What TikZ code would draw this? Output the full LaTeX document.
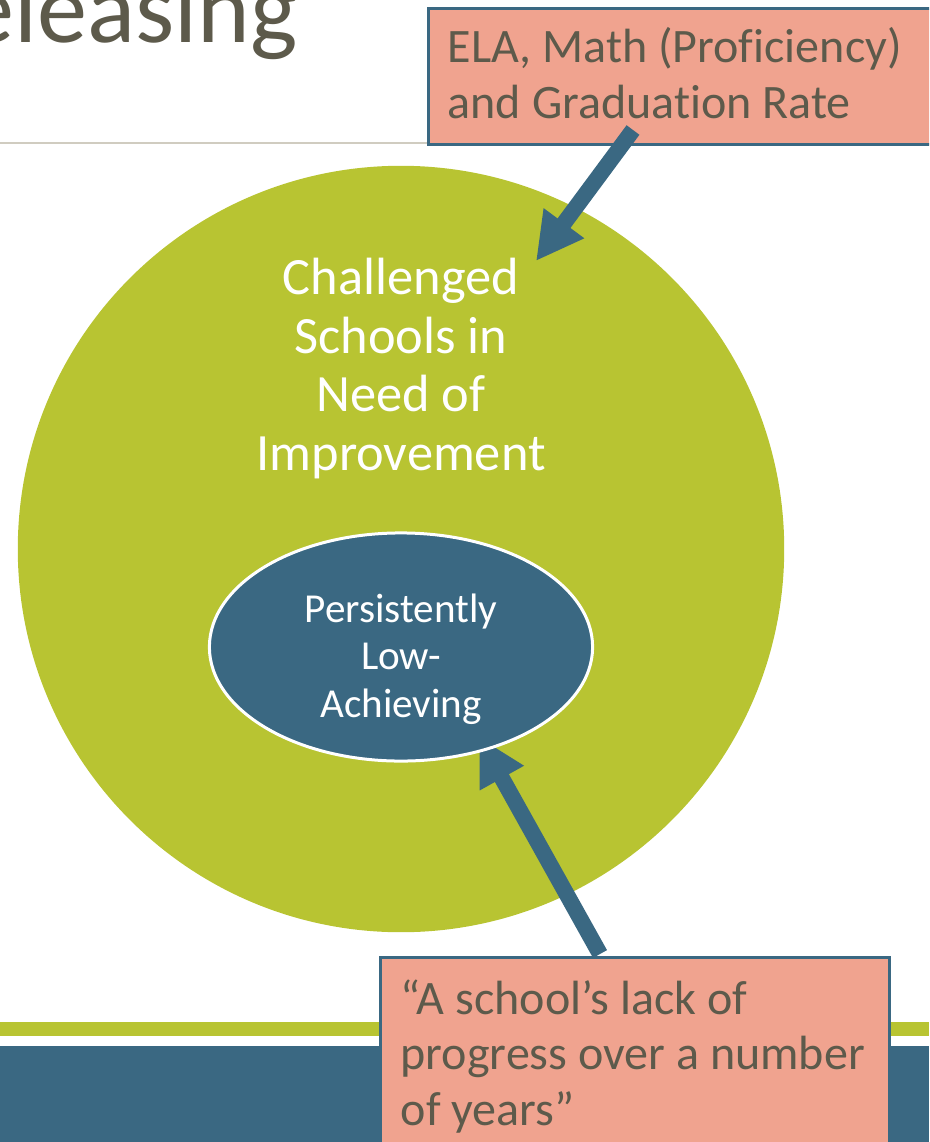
\documentclass[tikz,border=0pt]{standalone}
\usepackage{fontspec}
\setmainfont{Carlito}[Ligatures={TeX,NoCommon}]
\usepackage{xcolor}
\usetikzlibrary{arrows.meta,shapes.geometric}

\definecolor{leafgreen}{RGB}{184,196,50}
\definecolor{slateblue}{RGB}{58,104,130}
\definecolor{salmonbox}{RGB}{240,163,143}
\definecolor{inkgray}{RGB}{93,90,75}
\definecolor{rulegray}{RGB}{208,204,192}

\begin{document}
\begin{tikzpicture}[x=0.01cm,y=-0.01cm,
    notebox/.style={rectangle,draw=slateblue,line width=0.03cm,fill=salmonbox,anchor=north west,inner sep=0pt},
    notetext/.style={text=inkgray,font=\fontsize{13.66}{15.65}\selectfont,align=left,anchor=base west,inner sep=0pt},
    pointer/.style={slateblue,line width=0.16cm,-{Triangle[length=0.47cm,width=0.47cm]}}]
          \useasboundingbox (0,0) rectangle (929,1142);
          \clip (0,0) rectangle (929,1142);

          % % title and rule
          \node[anchor=base west,inner sep=0pt,text=inkgray,font=\fontsize{28.5}{33}\selectfont] (title) at (-36,42) {eleasing};
          \draw[rulegray,line width=0.02cm] (0,143) -- (929,143);

          % % the two sets (multi-line text sits on its last baseline)
          \node[circle,fill=leafgreen,minimum size=7.66cm,inner sep=0pt] (cs) at (401,549) {};
          \node[text=white,align=center,anchor=base,inner sep=0pt,font=\fontsize{14.9}{16.6}\selectfont] (cstext) at (401,470) {Challenged\\Schools in\\Need of\\Improvement};

          \coordinate (lacktail) at (600,954);
          \coordinate (lacktip) at (479,737);
          \draw[pointer] (lacktail) -- (lacktip);

          \node[ellipse,fill=slateblue,draw=white,line width=0.03cm,minimum width=3.83cm,minimum height=2.28cm,inner sep=0pt] (pla) at (401,647) {};
          \node[text=white,align=center,anchor=base,inner sep=0pt,font=\fontsize{11.7}{13.4}\selectfont] (platext) at (401,717) {Persistently\\Low-\\Achieving};

          % % top call-out
          \node[notebox,minimum width=5.2cm,minimum height=1.36cm] (ela) at (427,7) {};
          \node[notetext] (elatext) at (447,118) {ELA, Math (Proficiency)\\and Graduation Rate};
          \coordinate (elatail) at (633,130);
          \coordinate (elatip) at (536,261);
          \draw[pointer] (elatail) -- (elatip);

          % % footer bars and bottom call-out
          \fill[leafgreen] (0,1022) rectangle (929,1036);
          \fill[slateblue] (0,1046) rectangle (929,1142);
          \node[notebox,minimum width=5.09cm,minimum height=2.0cm] (lack) at (379,956) {};
          \node[notetext] (lacktext) at (400,1125) {“A school’s lack of\\progress over a number\\of years”};
\end{tikzpicture}
\end{document}
